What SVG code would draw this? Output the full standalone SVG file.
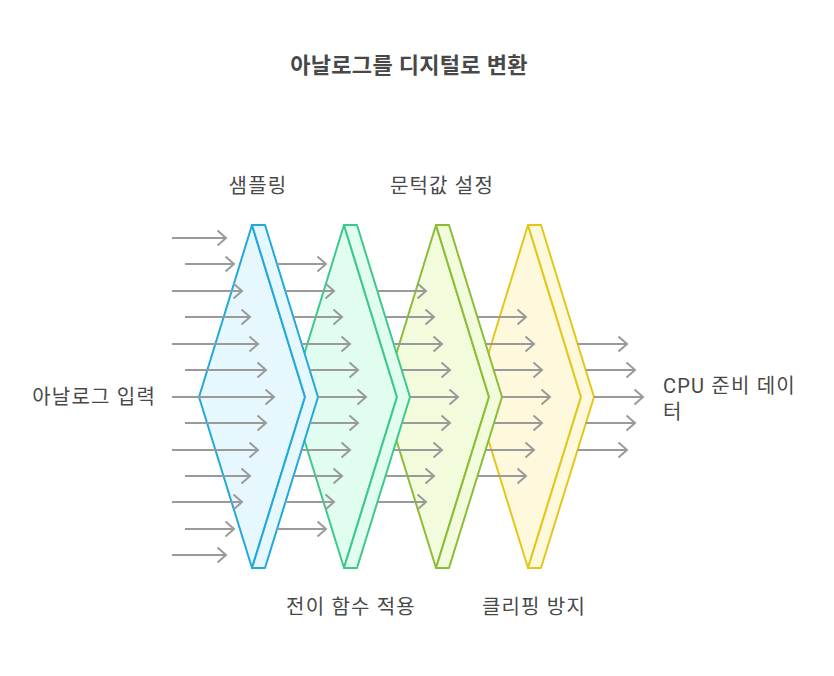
<svg xmlns="http://www.w3.org/2000/svg" width="834" height="676" viewBox="0 0 834 676">
<defs>
<style>
.t{font-family:Roboto,"Noto Sans CJK KR","Noto Sans",sans-serif;font-size:20px;letter-spacing:1.2px;fill:#484848}
.title{font-size:22px;font-weight:bold;letter-spacing:0.3px;fill:#484848}
.a{stroke:#9a9a9a;stroke-width:2;fill:none;marker-end:url(#ah)}
.sh{stroke-width:2;stroke-linejoin:round}
.blue{stroke:#22a9dc;fill:#e7f7fe}
.green{stroke:#3cc98a;fill:#e1fdf0}
.lime{stroke:#8cbe35;fill:#f2fcdd}
.yellow{stroke:#e2c81c;fill:#fef9dc}
</style>
<marker id="ah" markerUnits="userSpaceOnUse" viewBox="0 0 12 18" refX="10" refY="9" markerWidth="12" markerHeight="18" orient="auto">
<path d="M1.5 1.5 L10 9 L1.5 16.5" fill="none" stroke="#9a9a9a" stroke-width="2"/>
</marker>
</defs>
<rect width="834" height="676" fill="#ffffff"/>
<text class="t title" x="409" y="73" text-anchor="middle">아날로그를 디지털로 변환</text>

<g id="node-yellow">
<polygon class="sh yellow" points="528,225 581,397 528,568 475,397"/>
<polygon class="sh yellow" points="528,225 541,225 594,397 541,568 528,568 581,397"/>
</g>
<g id="node-lime">
<polygon class="sh lime" points="436,225 489,397 436,568 383,397"/>
<polygon class="sh lime" points="436,225 449,225 502,397 449,568 436,568 489,397"/>
</g>
<g id="node-green">
<polygon class="sh green" points="344,225 397,397 344,568 291,397"/>
<polygon class="sh green" points="344,225 357,225 410,397 357,568 344,568 397,397"/>
</g>
<g id="node-blue">
<polygon class="sh blue" points="252,225 305,397 252,568 199,397"/>
<polygon class="sh blue" points="252,225 265,225 318,397 265,568 252,568 305,397"/>
</g>

<g id="connectors">
<line class="a" x1="172" y1="238" x2="226" y2="238"/>
<line class="a" x1="185" y1="264" x2="234" y2="264"/>
<line class="a" x1="172" y1="291" x2="242" y2="291"/>
<line class="a" x1="185" y1="317" x2="250" y2="317"/>
<line class="a" x1="172" y1="344" x2="258" y2="344"/>
<line class="a" x1="185" y1="370" x2="266" y2="370"/>
<line class="a" x1="172" y1="397" x2="274" y2="397"/>
<line class="a" x1="185" y1="423" x2="266" y2="423"/>
<line class="a" x1="172" y1="450" x2="258" y2="450"/>
<line class="a" x1="185" y1="476" x2="250" y2="476"/>
<line class="a" x1="172" y1="502" x2="242" y2="502"/>
<line class="a" x1="185" y1="529" x2="234" y2="529"/>
<line class="a" x1="172" y1="555" x2="226" y2="555"/>

<line class="a" x1="277" y1="264" x2="326" y2="264"/>
<line class="a" x1="285" y1="291" x2="334" y2="291"/>
<line class="a" x1="293.5" y1="317" x2="342" y2="317"/>
<line class="a" x1="301.7" y1="344" x2="350" y2="344"/>
<line class="a" x1="309.8" y1="370" x2="358" y2="370"/>
<line class="a" x1="318" y1="397" x2="366" y2="397"/>
<line class="a" x1="309.8" y1="423" x2="358" y2="423"/>
<line class="a" x1="301.7" y1="450" x2="350" y2="450"/>
<line class="a" x1="293.5" y1="476" x2="342" y2="476"/>
<line class="a" x1="285" y1="502" x2="334" y2="502"/>
<line class="a" x1="277" y1="529" x2="326" y2="529"/>

<line class="a" x1="377.3" y1="291" x2="426" y2="291"/>
<line class="a" x1="385.5" y1="317" x2="434" y2="317"/>
<line class="a" x1="393.7" y1="344" x2="442" y2="344"/>
<line class="a" x1="401.8" y1="370" x2="450" y2="370"/>
<line class="a" x1="410" y1="397" x2="458" y2="397"/>
<line class="a" x1="401.8" y1="423" x2="450" y2="423"/>
<line class="a" x1="393.7" y1="450" x2="442" y2="450"/>
<line class="a" x1="385.5" y1="476" x2="434" y2="476"/>
<line class="a" x1="377.3" y1="502" x2="426" y2="502"/>

<line class="a" x1="477.5" y1="317" x2="526" y2="317"/>
<line class="a" x1="485.7" y1="344" x2="534" y2="344"/>
<line class="a" x1="493.8" y1="370" x2="542" y2="370"/>
<line class="a" x1="502" y1="397" x2="550" y2="397"/>
<line class="a" x1="493.8" y1="423" x2="542" y2="423"/>
<line class="a" x1="485.7" y1="450" x2="534" y2="450"/>
<line class="a" x1="477.5" y1="476" x2="526" y2="476"/>

<line class="a" x1="577.7" y1="344" x2="627" y2="344"/>
<line class="a" x1="585.8" y1="370" x2="635" y2="370"/>
<line class="a" x1="594" y1="397" x2="643" y2="397"/>
<line class="a" x1="585.8" y1="423" x2="635" y2="423"/>
<line class="a" x1="577.7" y1="450" x2="627" y2="450"/>
</g>

<g id="labels">
<text class="t" x="258" y="193" text-anchor="middle">샘플링</text>
<text class="t" x="442" y="193" text-anchor="middle">문턱값 설정</text>
<text class="t" x="351" y="614" text-anchor="middle">전이 함수 적용</text>
<text class="t" x="534" y="614" text-anchor="middle">클리핑 방지</text>
<text class="t" x="156" y="404" text-anchor="end">아날로그 입력</text>
<text class="t" x="663" y="393">CPU 준비 데이</text>
<text class="t" x="663" y="419">터</text>
</g>
</svg>
